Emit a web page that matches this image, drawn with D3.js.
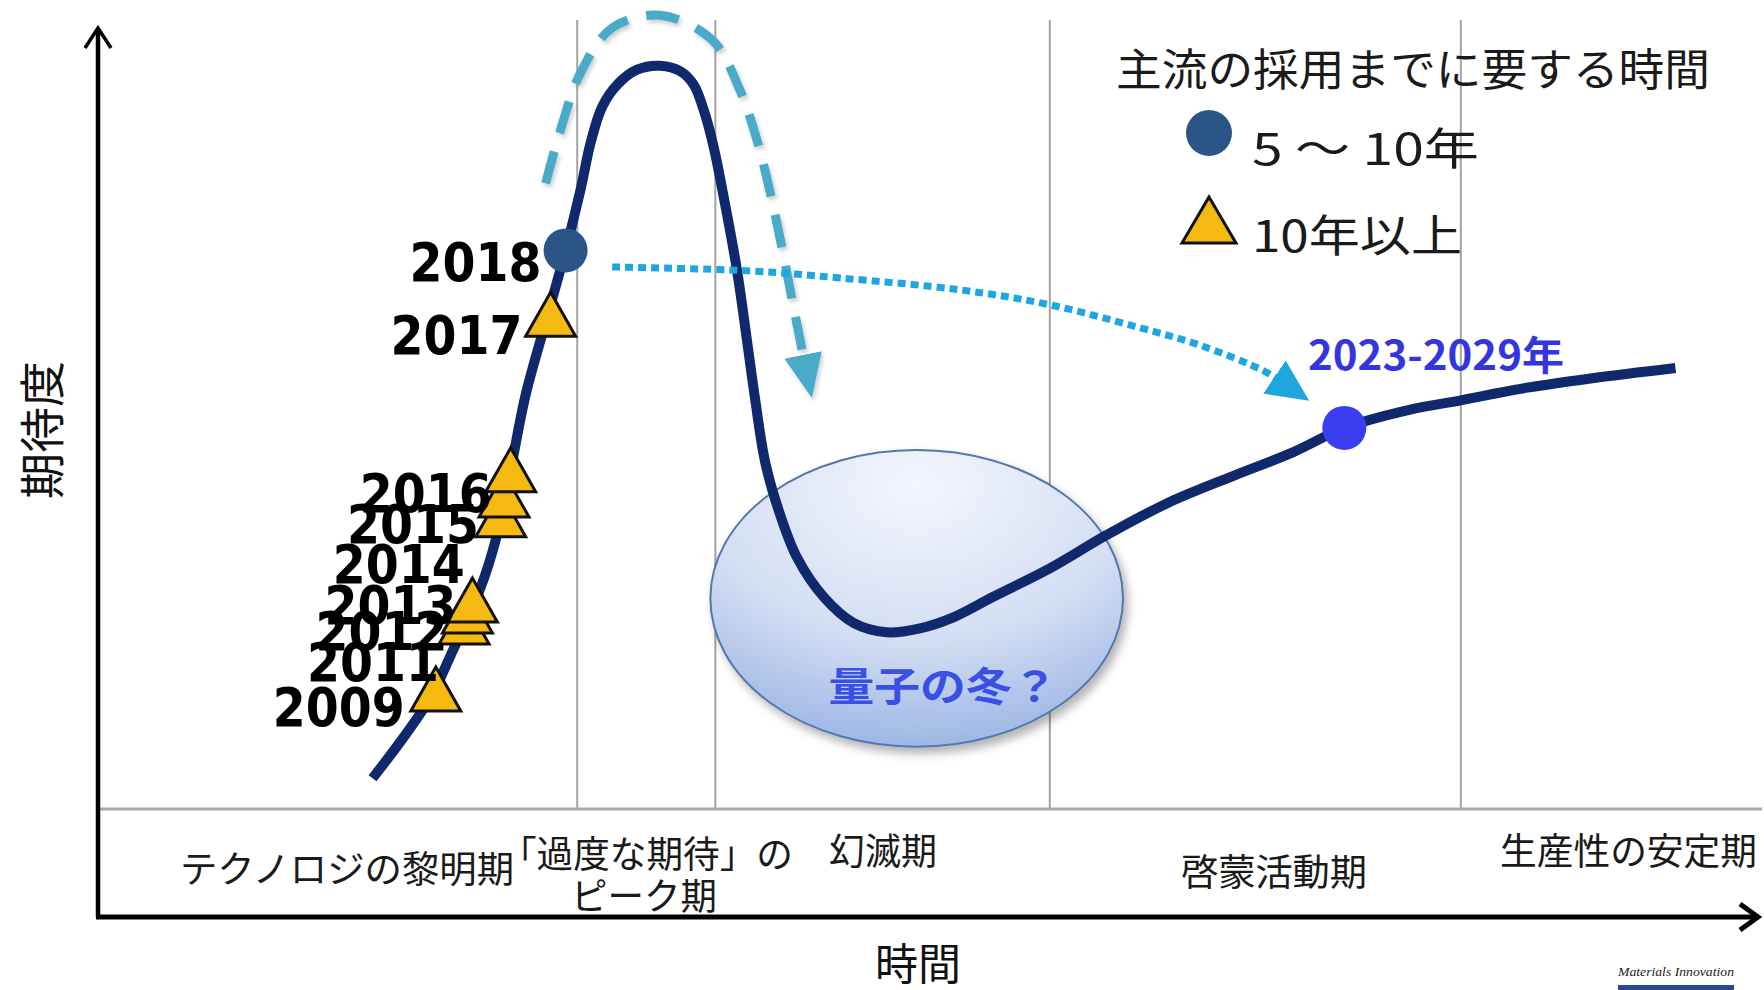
<!DOCTYPE html>
<html>
<head>
<meta charset="utf-8">
<script src="https://cdn.jsdelivr.net/npm/d3@7/dist/d3.min.js"></script>
<style>
body { margin: 0; background: #fff; }
svg { display: block; }
text { font-family: "Noto Sans CJK JP", "Noto Sans", sans-serif; }
</style>
</head>
<body>
<svg id="hype" width="1764" height="990"></svg>
<script>
// hype curve, time 0-100 / expectation 0-100
var curveTime = [16.5, 18.3, 20.0, 21.2, 23.0, 23.9, 24.8, 25.7, 27.0, 28.1, 29.0, 29.6, 30.3, 31.2, 32.4, 33.8,
	35.0, 35.8, 36.4, 37.0, 37.6, 38.4, 39.0, 39.5, 40.1, 40.9, 42.0, 43.6, 45.4, 47.4, 49.4, 51.4, 53.8,
	57.2, 60.6, 64.2, 68.2, 71.8, 74.9, 78.8, 81.9, 85.9, 89.8, 94.8];
var curveExp = [3.9, 8.9, 14.2, 19.5, 28.1, 34.1, 43.0, 52.5, 62.4, 70.8, 78.5, 84.4, 89.0, 91.8, 93.7, 94.2,
	93.5, 91.8, 88.6, 83.9, 77.6, 68.3, 59.4, 51.8, 43.9, 37.9, 31.9, 26.9, 23.6, 22.4, 22.9, 24.3, 26.9,
	30.5, 34.7, 38.7, 42.2, 45.2, 48.3, 50.6, 51.8, 53.4, 54.6, 55.9];

// yearly positions on the curve
var years = ['2009', '2011', '2012', '2013', '2014', '2015', '2016', '2017', '2018'];
var yearTime = [20.3, 22.0, 22.2, 22.5, 24.2, 24.4, 24.8, 27.2, 28.1];
var yearExp = [15.2, 23.7, 25.1, 26.5, 37.3, 39.8, 43.0, 62.7, 70.8];
var yearKind = ['long', 'long', 'long', 'long', 'long', 'long', 'long', 'long', 'mid'];

var forecastLabel = '2023-2029年';
var forecastTime = [74.9];
var forecastExp = [48.3];

var phaseNames = ['テクノロジの黎明期', '「過度な期待」の', 'ピーク期', '幻滅期', '啓蒙活動期', '生産性の安定期'];
var phaseEdges = [28.8, 37.1, 57.2, 81.9];

var legendTitle = '主流の採用までに要する時間';
var legendKinds = ['mid', 'long'];
var legendLabels = ['5 ～ 10年', '10年以上'];

// dashed "drop" arrow and dotted "shift" arrow
var dropTime = [26.9, 27.8, 29.0, 30.9, 33.8, 36.9, 38.5, 39.6, 40.4, 41.1, 41.8, 42.4];
var dropExp = [79.3, 86.1, 93.3, 99.0, 100.6, 97.5, 91.5, 84.8, 78.1, 71.2, 63.6, 57.3];
var shiftTime = [30.9, 39.2, 44.6, 51.8, 57.2, 62.6, 66.2, 70.0, 70.8];
var shiftExp = [68.7, 68.2, 67.3, 65.8, 63.9, 61.0, 58.8, 55.6, 54.6];

var winterLabel = '量子の冬？';
var winterCenter = [49.2, 26.7];
var winterRadius = [12.4, 18.8];

var xLabel = '時間';
var yLabel = '期待度';

// ---- layout ----
var svg = d3.select('#hype');
var x = d3.scaleLinear().domain([0, 100]).range([98, 1762]);
var y = d3.scaleLinear().domain([0, 100]).range([809, 20]);
var axisY = 917;

// label anchor (right end, baseline) relative to its mark, px
var labelOffsets = {
	'2009': [-31, 37], '2011': [-25, 59], '2012': [-20, 39], '2013': [-16, 24],
	'2014': [-36, 68], '2015': [-25, 48], '2016': [-19, 42], '2017': [-28, 40], '2018': [-24, 31]
};
var phasePos = [
	{x: 180, y: 867, len: 334, anchor: 'start'},
	{x: 500, y: 852, len: 293, anchor: 'start'},
	{x: 644, y: 894, len: 146, anchor: 'middle'},
	{x: 829, y: 849, len: 108, anchor: 'start'},
	{x: 1181, y: 870, len: 186, anchor: 'start'},
	{x: 1500, y: 849, len: 257, anchor: 'start'}
];

var navy = '#10296c';
var gold = '#f5b90f';
var markColor = {mid: '#2c5587'};

var defs = svg.append('defs');

var grad = defs.append('radialGradient')
	.attr('id', 'winterFill')
	.attr('cx', '50%').attr('cy', '12%').attr('r', '95%');
grad.append('stop').attr('offset', '0%').attr('stop-color', '#f3f6fc');
grad.append('stop').attr('offset', '55%').attr('stop-color', '#d3def3');
grad.append('stop').attr('offset', '100%').attr('stop-color', '#93afe2');

var shadow = defs.append('filter').attr('id', 'shadow')
	.attr('x', '-20%').attr('y', '-20%').attr('width', '140%').attr('height', '140%');
shadow.append('feDropShadow')
	.attr('dx', 4).attr('dy', 6).attr('stdDeviation', 5)
	.attr('flood-color', '#000').attr('flood-opacity', 0.3);

var soft = defs.append('filter').attr('id', 'soft')
	.attr('x', '-20%').attr('y', '-20%').attr('width', '140%').attr('height', '140%');
soft.append('feDropShadow')
	.attr('dx', 2).attr('dy', 3).attr('stdDeviation', 2)
	.attr('flood-color', '#000').attr('flood-opacity', 0.2);

function arrowHead(id, color, len, half) {
	defs.append('marker')
		.attr('id', id)
		.attr('markerUnits', 'userSpaceOnUse')
		.attr('viewBox', `0 ${-half} ${len} ${half * 2}`)
		.attr('markerWidth', len)
		.attr('markerHeight', half * 2)
		.attr('refX', 2)
		.attr('refY', 0)
		.attr('orient', 'auto')
		.append('path')
		.attr('d', `M0,${-half}L${len},0L0,${half}Z`)
		.attr('fill', color);
}
arrowHead('dropHead', '#4aabc8', 44, 19);
arrowHead('shiftHead', '#1ea6df', 42, 20);

// phase grid
svg.selectAll('.phase-line')
	.data(phaseEdges)
	.enter()
	.append('line')
	.attr('class', 'phase-line')
	.attr('x1', d => x(d)).attr('x2', d => x(d))
	.attr('y1', y(100)).attr('y2', y(0))
	.attr('stroke', '#a3a3a3')
	.attr('stroke-width', 2);

svg.append('line')
	.attr('x1', x(0)).attr('x2', x(100))
	.attr('y1', y(0)).attr('y2', y(0))
	.attr('stroke', '#a8a8a8')
	.attr('stroke-width', 3);

// axes
svg.append('line')
	.attr('x1', x(0)).attr('x2', x(0))
	.attr('y1', axisY).attr('y2', 30)
	.attr('stroke', '#000').attr('stroke-width', 4.5);
svg.append('path')
	.attr('d', `M${x(0) - 13},48L${x(0)},28L${x(0) + 13},48`)
	.attr('fill', 'none').attr('stroke', '#000').attr('stroke-width', 3.5);

svg.append('line')
	.attr('x1', x(0) - 2).attr('x2', 1754)
	.attr('y1', axisY).attr('y2', axisY)
	.attr('stroke', '#000').attr('stroke-width', 5);
svg.append('path')
	.attr('d', `M1740,904L1758,${axisY}L1740,930`)
	.attr('fill', 'none').attr('stroke', '#000').attr('stroke-width', 5);

svg.append('text')
	.text(xLabel)
	.attr('x', 918).attr('y', 961)
	.attr('text-anchor', 'middle')
	.attr('dominant-baseline', 'central')
	.style('font-size', '43px')
	.attr('fill', '#111');

svg.append('text')
	.text(yLabel)
	.attr('transform', 'translate(39,430) rotate(-90)')
	.attr('text-anchor', 'middle')
	.attr('dominant-baseline', 'central')
	.style('font-size', '46px')
	.attr('fill', '#111');

// phase names
svg.selectAll('.phase-name')
	.data(phaseNames)
	.enter()
	.append('text')
	.attr('class', 'phase-name')
	.text(d => d)
	.attr('x', (d, i) => phasePos[i].x)
	.attr('y', (d, i) => phasePos[i].y)
	.attr('text-anchor', (d, i) => phasePos[i].anchor)
	.attr('dominant-baseline', 'central')
	.attr('textLength', (d, i) => phasePos[i].len)
	.attr('lengthAdjust', 'spacingAndGlyphs')
	.style('font-size', '37px')
	.attr('fill', '#1a1a1a');

// trough of disillusionment
svg.append('ellipse')
	.attr('cx', x(winterCenter[0]))
	.attr('cy', y(winterCenter[1]))
	.attr('rx', x(winterRadius[0]) - x(0))
	.attr('ry', y(0) - y(winterRadius[1]))
	.attr('fill', 'url(#winterFill)')
	.attr('stroke', '#5577ad')
	.attr('stroke-width', 2)
	.attr('filter', 'url(#shadow)');

var pathLine = function(ts, es) {
	return d3.line()
		.x((d, i) => x(ts[i]))
		.y((d, i) => y(es[i]))
		.curve(d3.curveCatmullRom.alpha(0.5))(ts);
};

// dashed drop
svg.append('path')
	.attr('d', pathLine(dropTime, dropExp))
	.attr('fill', 'none')
	.attr('stroke', '#4aabc8')
	.attr('stroke-width', 9)
	.attr('stroke-dasharray', '33 19')
	.attr('marker-end', 'url(#dropHead)')
	.attr('filter', 'url(#soft)');

// main curve
svg.append('path')
	.attr('d', pathLine(curveTime, curveExp))
	.attr('fill', 'none')
	.attr('stroke', navy)
	.attr('stroke-width', 10)
	.attr('stroke-linejoin', 'round');

// dotted shift
svg.append('path')
	.attr('d', pathLine(shiftTime, shiftExp))
	.attr('fill', 'none')
	.attr('stroke', '#1ea6df')
	.attr('stroke-width', 7)
	.attr('stroke-dasharray', '8 5')
	.attr('marker-end', 'url(#shiftHead)');

svg.append('text')
	.text(winterLabel)
	.attr('x', 943).attr('y', 684)
	.attr('text-anchor', 'middle')
	.attr('dominant-baseline', 'central')
	.attr('textLength', 229)
	.attr('lengthAdjust', 'spacingAndGlyphs')
	.style('font-size', '40px')
	.style('font-weight', 700)
	.attr('fill', '#3a50e4');

// markers
var triPath = function(w, h) {
	return `M0,${-h / 2}L${w / 2},${h / 2}L${-w / 2},${h / 2}Z`;
};
var drawMark = function(sel, kind, r, w, h) {
	if (kind === 'mid') {
		sel.append('circle').attr('r', r).attr('fill', markColor.mid);
	} else {
		sel.append('path')
			.attr('d', triPath(w, h))
			.attr('fill', gold)
			.attr('stroke', '#111')
			.attr('stroke-width', 3)
			.attr('stroke-linejoin', 'miter');
	}
};

var marks = svg.selectAll('.year')
	.data(years)
	.enter()
	.append('g')
	.attr('class', 'year')
	.attr('transform', (d, i) => `translate(${x(yearTime[i])},${y(yearExp[i])})`);
marks.each(function(d, i) {
	drawMark(d3.select(this), yearKind[i], 22, 50, 44);
});

svg.selectAll('.year-label')
	.data(years)
	.enter()
	.append('text')
	.attr('class', 'year-label')
	.text(d => d)
	.attr('x', (d, i) => x(yearTime[i]) + labelOffsets[d][0])
	.attr('y', (d, i) => y(yearExp[i]) + labelOffsets[d][1])
	.attr('text-anchor', 'end')
	.attr('textLength', 132)
	.attr('lengthAdjust', 'spacingAndGlyphs')
	.style('font-family', '"DejaVu Sans", sans-serif')
	.style('font-size', '53px')
	.style('font-weight', 700)
	.attr('fill', '#000');

// forecast point
svg.selectAll('.forecast')
	.data(forecastTime)
	.enter()
	.append('circle')
	.attr('class', 'forecast')
	.attr('cx', d => x(d))
	.attr('cy', (d, i) => y(forecastExp[i]))
	.attr('r', 22)
	.attr('fill', '#3b3ef0');

svg.append('text')
	.text(forecastLabel)
	.attr('x', 1308).attr('y', 353)
	.attr('dominant-baseline', 'central')
	.attr('textLength', 256)
	.attr('lengthAdjust', 'spacingAndGlyphs')
	.style('font-size', '40px')
	.style('font-weight', 700)
	.attr('fill', '#3535e0');

// legend
svg.append('text')
	.text(legendTitle)
	.attr('x', 1116).attr('y', 67)
	.attr('dominant-baseline', 'central')
	.attr('textLength', 594)
	.attr('lengthAdjust', 'spacingAndGlyphs')
	.style('font-size', '44px')
	.attr('fill', '#1a1a1a');

var legendRows = [133, 220];
var legendText = [{len: 227}, {len: 210}];
legendKinds.forEach(function(k, i) {
	var g = svg.append('g').attr('transform', `translate(1209,${legendRows[i]})`);
	drawMark(g, k, 23, 54, 46);
	svg.append('text')
		.text(legendLabels[i])
		.attr('x', 1252).attr('y', legendRows[i] + 13)
		.attr('dominant-baseline', 'central')
		.attr('textLength', legendText[i].len)
		.attr('lengthAdjust', 'spacingAndGlyphs')
		.style('font-size', '44px')
		.attr('fill', '#1a1a1a');
});

// source mark
svg.append('text')
	.text('Materials Innovation')
	.attr('x', 1676).attr('y', 976)
	.attr('text-anchor', 'middle')
	.attr('textLength', 116)
	.attr('lengthAdjust', 'spacingAndGlyphs')
	.style('font-family', '"Liberation Serif", serif')
	.style('font-style', 'italic')
	.style('font-size', '13px')
	.attr('fill', '#222');
svg.append('rect')
	.attr('x', 1618).attr('y', 985)
	.attr('width', 116).attr('height', 5)
	.attr('fill', '#2b4a8c');
</script>
</body>
</html>
